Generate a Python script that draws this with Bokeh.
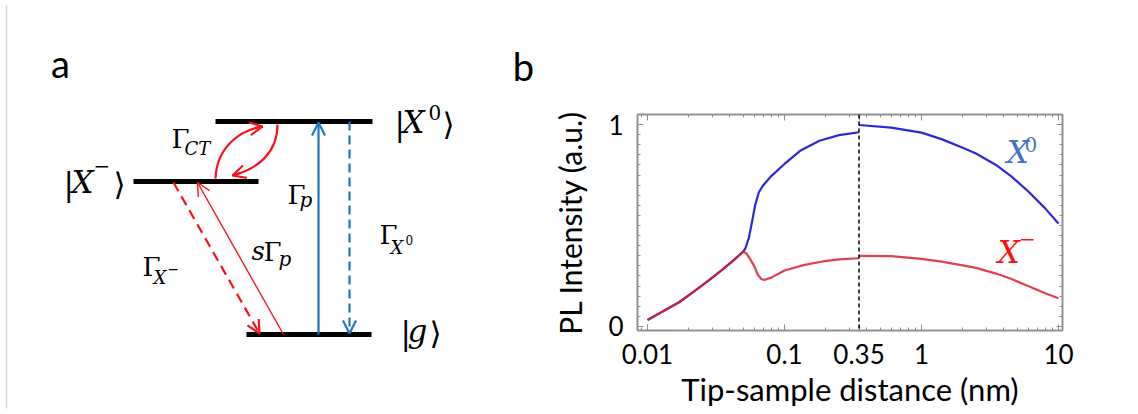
from bokeh.plotting import figure
from bokeh.layouts import row
from bokeh.models import (Range1d, FixedTicker, LinearAxis, LogAxis, Span, Arrow,
                          OpenHead, CustomJSTickFormatter)
from bokeh.core.properties import value
from bokeh.embed import file_html
from bokeh.resources import INLINE

# ---------------- Panel b data (tip-sample distance in nm, PL intensity a.u.) -------------
shared_x = [0.01, 0.013, 0.017, 0.022, 0.028, 0.035, 0.042, 0.05]
shared_y = [0.032, 0.075, 0.120, 0.175, 0.228, 0.280, 0.325, 0.371]

x0_near_x = [0.052, 0.055, 0.058, 0.061, 0.065, 0.07, 0.08, 0.10, 0.13, 0.18, 0.25, 0.35]
x0_near_y = [0.39, 0.44, 0.52, 0.60, 0.665, 0.70, 0.745, 0.805, 0.87, 0.92, 0.948, 0.962]

xm_near_x = [0.053, 0.056, 0.060, 0.064, 0.068, 0.072, 0.08, 0.10, 0.14, 0.19, 0.25, 0.35]
xm_near_y = [0.36, 0.335, 0.30, 0.255, 0.234, 0.231, 0.242, 0.277, 0.305, 0.322, 0.332, 0.338]

far_x = [0.35, 0.6, 1.0, 1.4, 2.0, 2.5, 3.5, 4.5, 6.0, 8.0, 10.0]
x0_far_y = [0.998, 0.985, 0.96, 0.928, 0.885, 0.857, 0.80, 0.745, 0.67, 0.585, 0.51]
xm_far_y = [0.350, 0.348, 0.335, 0.321, 0.303, 0.290, 0.262, 0.236, 0.200, 0.165, 0.14]

x_tick_values = [0.01, 0.1, 0.35, 1, 10]
y_tick_values = [0, 1]
cut_distance = 0.35

# ---------------- Panel a diagram (energy levels and transitions) -------------------------
level_x_start = [215, 133, 246]      # |X0>, |X->, |g>
level_x_end = [372, 258, 371]
level_y = [121, 181, 334]

BLUE_A = "#1f74c4"
RED_A = "#f5141e"

pa = figure(width=540, height=414, x_range=Range1d(0, 540), y_range=Range1d(414, 0),
            output_backend="svg", toolbar_location=None, min_border=0,
            x_axis_location=None, y_axis_location=None)
pa.frame_align = False
pa.grid.visible = False
pa.outline_line_color = None
pa.background_fill_color = "white"

# faint page edge
pa.segment(x0=[6], y0=[5], x1=[6], y1=[408], line_color="#d6d6d6", line_width=1.5)

# levels
pa.segment(x0=level_x_start, y0=level_y, x1=level_x_end, y1=level_y,
           line_color="black", line_width=5, line_cap="butt")

yX0, yXm, yg = level_y

def arrow(xs, ys, xe, ye, color, width, dash="solid", size=13):
    pa.add_layout(Arrow(end=OpenHead(size=size, line_color=color, line_width=width),
                        x_start=xs, y_start=ys, x_end=xe, y_end=ye,
                        line_color=color, line_width=width, line_dash=dash))

# Gamma_p (solid blue up), Gamma_X0 (dashed blue down)
arrow(318, yg, 318, yX0 + 1, BLUE_A, 2.2)
arrow(349, yX0, 349, yg - 1, BLUE_A, 2.2, dash="9 5")
# s Gamma_p (thin red up to X-), Gamma_X- (dashed red down)
arrow(283, yg, 197, yXm + 1, RED_A, 1.4)
arrow(173, yXm + 1, 259, yg - 1, RED_A, 2.2, dash="10 6")

# Gamma_CT curved arrows
pa.bezier(x0=[215], y0=[yXm - 3], x1=[262], y1=[126], cx0=[216], cy0=[148], cx1=[238], cy1=[130],
          line_color=RED_A, line_width=2.2)
arrow(255, 127.2, 262, 126, RED_A, 2.2)
pa.bezier(x0=[277], y0=[yX0 + 3], x1=[232], y1=[175], cx0=[277], cy0=[152], cx1=[258], cy1=[168],
          line_color=RED_A, line_width=2.2)
arrow(240, 172.5, 232, 175, RED_A, 2.2)

SERIF = value("DejaVu Serif")
SANS = value("Lato")
MID = {"DejaVu Serif": 0.346, "Lato": 0.387}   # baseline -> text-box middle offset (em)

def t(txt, x, y, size, style="normal", font="DejaVu Serif", color="black", align="left"):
    # y is the baseline position in pixels; convert to the box middle
    ym = y - MID[font] * size
    pa.text(x=[x], y=[ym], text=[txt], text_font=value(font), text_font_style=style,
            text_font_size=f"{size}px", text_color=color, text_baseline="middle",
            text_align=align)

# kets
t("|", 394, 134, 31); t("X", 402, 132, 31, "italic"); t("0", 428, 119, 20); t("⟩", 442, 134, 31)
t("|", 63, 194, 31); t("X", 71, 192, 31, "italic"); t("\u2212", 93, 172, 20); t("⟩", 113, 194, 31)
t("|", 400, 343, 31); t("g", 407, 341, 31, "italic"); t("⟩", 429, 343, 31)

# rate labels
t("Γ", 171, 147, 26); t("CT", 184, 154, 18, "italic")
t("Γ", 287, 203, 26); t("p", 299, 206, 20, "italic")
t("Γ", 379, 243, 26); t("X", 390, 253, 18, "italic"); t("0", 405, 244, 12)
t("s", 251, 259, 26, "italic"); t("Γ", 263, 260, 26); t("p", 278, 265, 20, "italic")
t("Γ", 142, 275, 26); t("X", 153, 283, 18, "italic"); t("\u2212", 167, 273, 14)

# panel letters
t("a", 60, 77, 38, font="Lato", align="center")
t("b", 523, 80, 38, font="Lato", align="center")

# ---------------- Panel b ----------------------------------------------------------------
GRAY = "#8c8c8c"
pb = figure(width=598, height=414, x_axis_type="log", x_range=Range1d(0.00845, 10.7),
            y_range=Range1d(-0.02, 1.05), output_backend="svg", toolbar_location=None,
            min_border_left=97, min_border_right=76, min_border_top=114, min_border_bottom=84)
pb.frame_align = False
pb.grid.visible = False
pb.outline_line_color = GRAY
pb.outline_line_width = 1.5

x_minor = [m * 10.0 ** k for k in (-3, -2, -1, 0, 1) for m in range(2, 10)]
y_minor = [i * 0.05 for i in range(-1, 22)]
xticker = FixedTicker(ticks=x_tick_values, minor_ticks=x_minor)
yticker = FixedTicker(ticks=y_tick_values, minor_ticks=y_minor)
fmt = CustomJSTickFormatter(code="return tick.toString();")
blank = CustomJSTickFormatter(code="return '';")

def style_axis(ax, label_size="31px"):
    ax.axis_line_color = GRAY
    ax.axis_line_width = 1.5
    ax.major_tick_line_color = GRAY
    ax.minor_tick_line_color = GRAY
    ax.major_tick_in = 6
    ax.major_tick_out = 0
    ax.minor_tick_in = 3
    ax.minor_tick_out = 0
    ax.major_label_text_font = "Lato"
    ax.major_label_text_font_size = "26px"
    ax.major_label_text_color = "black"
    ax.axis_label_text_font = "Lato"
    ax.axis_label_text_font_size = label_size
    ax.axis_label_text_font_style = "normal"
    ax.axis_label_text_color = "black"

xa = pb.xaxis[0]
xa.ticker = xticker
xa.formatter = fmt
style_axis(xa)
xa.major_label_standoff = 13
xa.axis_label = "Tip-sample distance (nm)"
xa.axis_label_standoff = 3

ya = pb.yaxis[0]
ya.ticker = yticker
ya.formatter = fmt
style_axis(ya, "30px")
ya.major_label_standoff = 14
ya.axis_label = "PL Intensity (a.u.)"
ya.axis_label_standoff = 17

top = LogAxis(ticker=xticker, formatter=blank, major_label_standoff=0)
style_axis(top)
pb.add_layout(top, "above")
right = LinearAxis(ticker=yticker, formatter=blank, major_label_standoff=0)
style_axis(right)
pb.add_layout(right, "right")

BLUE = "#2b2bd6"
RED = "#dc1f30"
pb.line(shared_x + x0_near_x, shared_y + x0_near_y, line_color=BLUE, line_width=2.2)
pb.line(far_x, x0_far_y, line_color=BLUE, line_width=2.2)
pb.line(shared_x + xm_near_x, shared_y + xm_near_y, line_color=RED, line_width=2.2, line_alpha=0.85)
pb.line(far_x, xm_far_y, line_color=RED, line_width=2.2, line_alpha=0.85)

pb.add_layout(Span(location=cut_distance, dimension="height", line_color="black",
                   line_dash="4 3", line_width=1.5))

PX = 1.07 / 216.0   # data units per pixel on the y axis

def tb(txt, x, y, size, color, style="normal"):
    ym = y + MID["DejaVu Serif"] * size * PX
    pb.text(x=[x], y=[ym], text=[txt], text_font=SERIF, text_font_style=style,
            text_font_size=f"{size}px", text_color=color, text_baseline="middle")

tb("X", 4.2, 0.812, 31, "#4472c4", "italic")
tb("0", 5.65, 0.865, 20, "#4472c4")
tb("X", 3.6, 0.317, 31, "#ff1010", "italic")
tb("\u2212", 5.15, 0.40, 20, "#ff1010")

layout = row(pa, pb, spacing=0)
open("out.html", "w").write(file_html(layout, INLINE))
